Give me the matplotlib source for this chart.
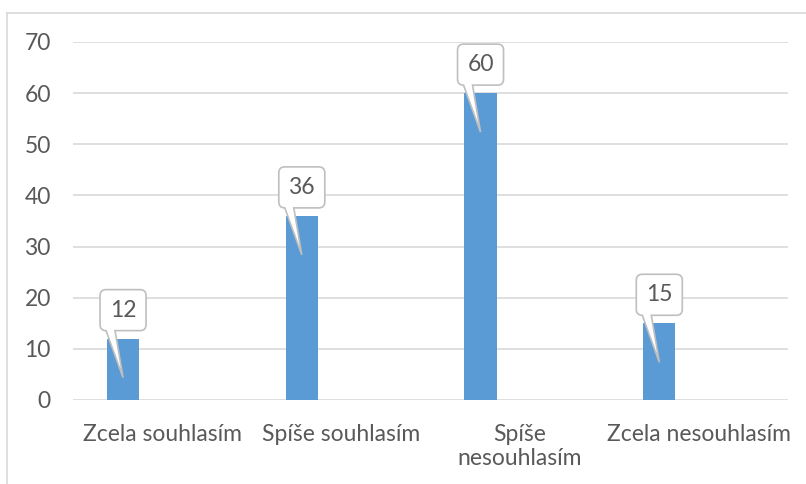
import matplotlib
matplotlib.use("Agg")
import matplotlib.pyplot as plt
from matplotlib.path import Path
from matplotlib.patches import PathPatch
from matplotlib.lines import Line2D
from matplotlib.transforms import ScaledTranslation

categories = ["Zcela souhlasím", "Spíše souhlasím", "Spíše\nnesouhlasím", "Zcela nesouhlasím"]
values = [12, 36, 60, 15]
y_ticks = [0, 10, 20, 30, 40, 50, 60, 70]

BAR_COLOR = "#5b9bd5"
GRID_COLOR = "#d9d9d9"
TEXT_COLOR = "#595959"
DPI = 100
FONT_SIZE = 16.5

plt.rcParams["font.family"] = ["Lato", "DejaVu Sans"]

fig = plt.figure(figsize=(8.06, 4.84), dpi=DPI)
ax = fig.add_axes([73 / 806, 84 / 484, 715 / 806, 358 / 484])

# outer chart frame (only left and top edges are visible)
fig.add_artist(Line2D([7 / 806, 7 / 806], [0, 471 / 484], transform=fig.transFigure,
                      color=GRID_COLOR, lw=1.2))
fig.add_artist(Line2D([7 / 806, 1], [471 / 484, 471 / 484], transform=fig.transFigure,
                      color=GRID_COLOR, lw=1.2))

x = list(range(len(categories)))
bar_x = [i - 0.22 for i in x]
ax.bar(bar_x, values, width=0.18, color=BAR_COLOR, zorder=2)

ax.set_xlim(-0.5, len(categories) - 0.5)
ax.set_ylim(0, 70)
ax.set_yticks(y_ticks)
ax.set_xticks(x)
ax.set_xticklabels(categories, linespacing=1.2)
ax.tick_params(axis="both", length=0, labelsize=FONT_SIZE, colors=TEXT_COLOR)
ax.tick_params(axis="y", pad=16)
ax.tick_params(axis="x", pad=17)
ax.yaxis.grid(True, color=GRID_COLOR, lw=1.2, zorder=0)
for side in ["left", "right", "top", "bottom"]:
    ax.spines[side].set_visible(False)


def callout_path(w=46, h=41, gap=8, r=6, tail_l=-17, tail_r=-8, tip=-39):
    # rounded box above the anchor with a wedge pointing down into the bar
    L, R, B, T = -w / 2, w / 2, gap, gap + h
    pts = [
        (L + r, T), (R - r, T), (R, T), (R, T - r),
        (R, B + r), (R, B), (R - r, B),
        (tail_r, B), (0, tip), (tail_l, B),
        (L + r, B), (L, B), (L, B + r),
        (L, T - r), (L, T), (L + r, T), (L + r, T),
    ]
    codes = [
        Path.MOVETO, Path.LINETO, Path.CURVE3, Path.CURVE3,
        Path.LINETO, Path.CURVE3, Path.CURVE3,
        Path.LINETO, Path.LINETO, Path.LINETO,
        Path.LINETO, Path.CURVE3, Path.CURVE3,
        Path.LINETO, Path.CURVE3, Path.CURVE3, Path.CLOSEPOLY,
    ]
    return Path([(px / DPI, py / DPI) for px, py in pts], codes), (gap + h / 2) / DPI


for bx, v in zip(bar_x, values):
    tr = fig.dpi_scale_trans + ScaledTranslation(bx, v, ax.transData)
    path, text_y = callout_path()
    ax.add_patch(PathPatch(path, transform=tr, facecolor="white",
                           edgecolor="#bfbfbf", lw=1.2, zorder=3, clip_on=False))
    ax.text(0, text_y, str(v), transform=tr, ha="center", va="center",
            fontsize=FONT_SIZE, color=TEXT_COLOR, zorder=4)

fig.savefig("out.png", dpi=DPI)
